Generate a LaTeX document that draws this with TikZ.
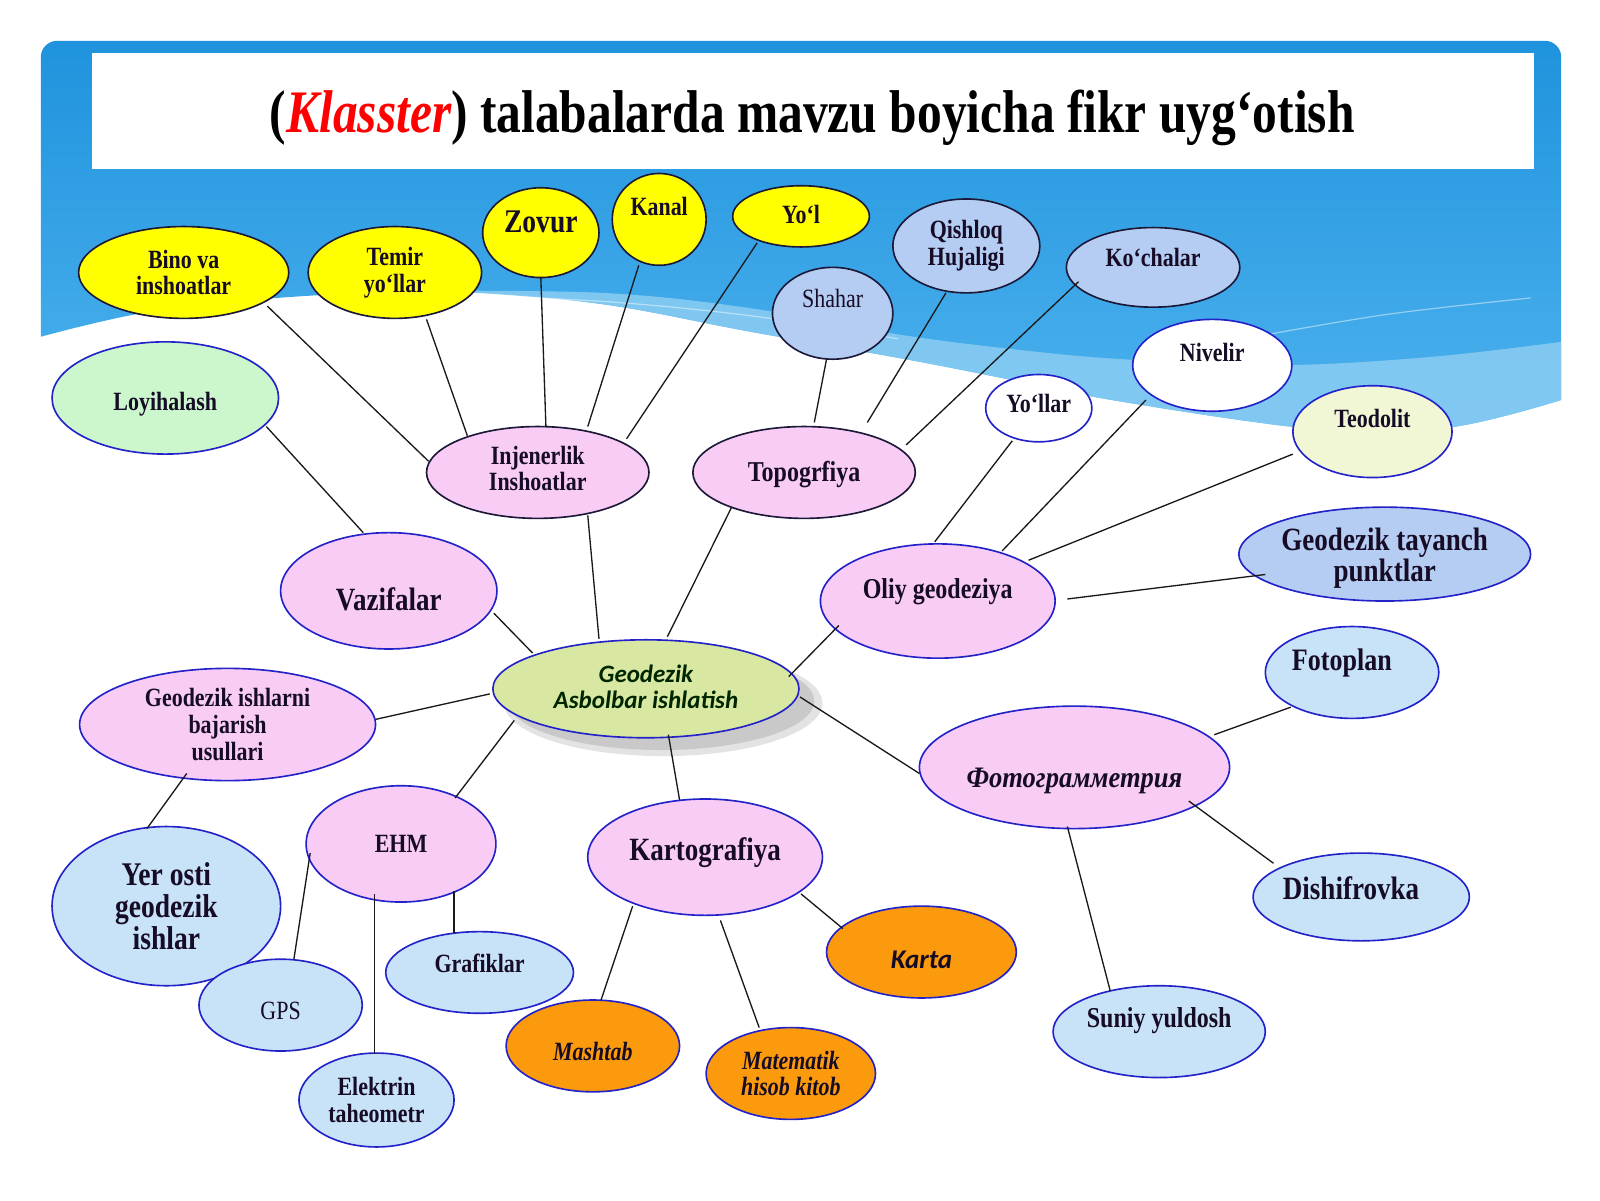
\documentclass[tikz,border=0pt]{standalone}
\usepackage{fontspec}
\setmainfont{Liberation Serif}
\newfontfamily\carl{Carlito}
\usetikzlibrary{calc,shapes.geometric}
\definecolor{skyA}{HTML}{1F93DD}
\definecolor{skyB}{HTML}{4DB2EE}
\definecolor{band}{HTML}{86CBF2}
\definecolor{yel}{HTML}{FFFF00}
\definecolor{pnk}{HTML}{F9CCF6}
\definecolor{lbA}{HTML}{B6CDF3}
\definecolor{lbB}{HTML}{C8E2F8}
\definecolor{grn}{HTML}{CCF6CC}
\definecolor{pyel}{HTML}{F1F6D4}
\definecolor{org}{HTML}{FA9A0C}
\definecolor{cgr}{HTML}{D8E8A2}
\definecolor{bl}{HTML}{2222C8}
\definecolor{dkl}{HTML}{1C1838}
\definecolor{txt}{HTML}{160C26}
\begin{document}
\begin{tikzpicture}[x=1pt,y=-1pt,
  ell/.style={ellipse, draw=bl, line width=1.6pt, inner sep=0pt},
  dk/.style={draw=dkl},
  lb/.style={font=\bfseries\fontsize{21.5}{21.7}\selectfont, align=center, inner sep=0pt, text=txt},
  ys/.style={yscale=1.2},
  con/.style={draw=black!90, line width=1.3pt}]
\useasboundingbox (0,0) rectangle (1568,1176);
\fill[white] (0,0) rectangle (1568,1176);
% sky
\shade[top color=skyA, bottom color=skyB]
  (40,330) [rounded corners=16pt] -- (40,40) -- (1530,40) -- (1530,392) [sharp corners]
  -- plot[smooth, tension=0.6] coordinates {(1530,392) (1420,419) (1300,420) (1225,413) (1078,390) (980,370) (882,351) (735,325) (590,298) (450,286) (300,290) (150,305) (40,330)} -- cycle;
\fill[band, opacity=0.9]
  plot[smooth, tension=0.6] coordinates {(400,285) (590,287) (735,302) (882,328) (1000,343) (1100,352) (1250,358) (1400,350) (1530,335)}
  -- plot[smooth, tension=0.6] coordinates {(1530,392) (1420,419) (1300,420) (1225,413) (1078,390) (980,370) (882,351) (735,325) (590,298) (450,286) (400,286)} -- cycle;
\draw[white, opacity=0.45, line width=1.2pt] plot[smooth, tension=0.6] coordinates {(470,290) (600,296) (740,310) (880,332)};
\draw[white, opacity=0.45, line width=1.2pt] plot[smooth, tension=0.6] coordinates {(1230,330) (1360,308) (1500,292)};
% title box
\fill[white] (90,52) rectangle (1503,166);
\node[font=\bfseries\fontsize{48.5}{50}\selectfont, text=black, inner sep=0pt, yscale=1.22] (title) at (796,116)
  {(\textcolor{red}{\itshape Klasster}) talabalarda mavzu boyicha fikr uyg‘otish};
% nodes
\node[ell, dk, fill=yel, minimum width=206pt, minimum height=90pt, label={[lb,ys]center:Bino va\\inshoatlar}] (bino) at (180,267) {};
\node[ell, dk, fill=yel, minimum width=170pt, minimum height=90pt, label={[lb,ys]center:Temir\\yo‘llar}] (temir) at (387,267) {};
\node[ell, dk, fill=yel, minimum width=114pt, minimum height=88pt, label={[lb, font=\bfseries\fontsize{27}{30}\selectfont, yshift=11pt,ys]center:Zovur}] (zovur) at (530,228) {};
\node[ell, dk, fill=yel, minimum width=92pt, minimum height=90pt, label={[lb, yshift=13pt,ys]center:Kanal}] (kanal) at (646,215) {};
\node[ell, dk, fill=yel, minimum width=134pt, minimum height=60pt, label={[lb, yshift=2pt,ys]center:Yo‘l}] (yol) at (785,212) {};
\node[ell, dk, fill=lbA, minimum width=118pt, minimum height=90pt, label={[lb, font=\fontsize{21.5}{22}\selectfont, yshift=14pt,ys]center:Shahar}] (shahar) at (816,307) {};
\node[ell, dk, fill=lbA, minimum width=144pt, minimum height=92pt, label={[lb,ys]center:Qishloq\\Hujaligi}] (qish) at (947,241) {};
\node[ell, dk, fill=lbA, minimum width=170pt, minimum height=78pt, label={[lb, yshift=10pt,ys]center:Ko‘chalar}] (koch) at (1130,262) {};
\node[ell, fill=white, minimum width=156pt, minimum height=90pt, label={[lb, yshift=13pt,ys]center:Nivelir}] (nivelir) at (1188,358) {};
\node[ell, fill=white, minimum width=104pt, minimum height=66pt, label={[lb, yshift=5pt,ys]center:Yo‘llar}] (yollar) at (1018,400) {};
\node[ell, fill=pyel, minimum width=156pt, minimum height=90pt, label={[lb, yshift=13pt,ys]center:Teodolit}] (teod) at (1345,423) {};
\node[ell, fill=grn, minimum width=222pt, minimum height=110pt, label={[lb, yshift=-6pt,ys]center:Loyihalash}] (loy) at (162,390) {};
\node[ell, dk, fill=pnk, minimum width=218pt, minimum height=90pt, label={[lb, yshift=4pt,ys]center:Injenerlik\\Inshoatlar}] (inj) at (527,463) {};
\node[ell, dk, fill=pnk, minimum width=218pt, minimum height=90pt, label={[lb, font=\bfseries\fontsize{23.5}{24}\selectfont, yshift=-2pt,ys]center:Topogrfiya}] (topo) at (788,463) {};
\node[ell, fill=pnk, minimum width=212pt, minimum height=114pt, label={[lb, font=\bfseries\fontsize{26.5}{27}\selectfont, yshift=-8pt,ys]center:Vazifalar}] (vaz) at (381,579) {};
\node[ell, fill=pnk, minimum width=230pt, minimum height=112pt, label={[lb, font=\bfseries\fontsize{23.5}{24}\selectfont, yshift=9pt,ys]center:Oliy geodeziya}] (oliy) at (919,589) {};
\node[ell, fill=lbA, minimum width=286pt, minimum height=92pt, label={[lb, font=\bfseries\fontsize{26.5}{26}\selectfont, yshift=-4pt,ys]center:Geodezik tayanch\\punktlar}] (tay) at (1357,543) {};
% centre with shadow
\fill[gray!22] (650,689) ellipse [x radius=156, y radius=52];
\fill[gray!42] (648,687) ellipse [x radius=150, y radius=48];
\node[ell, fill=cgr, minimum width=300pt, minimum height=96pt, label={[lb, font=\carl\bfseries\itshape\fontsize{24.5}{26}\selectfont, text=black!85!green, yshift=2pt]center:Geodezik\\Asbolbar ishlatish}] (cen) at (633,675) {};
\node[ell, fill=pnk, minimum width=290pt, minimum height=110pt, label={[lb,ys]center:Geodezik ishlarni\\bajarish\\usullari}] (gi) at (223,710) {};
\node[ell, fill=lbB, minimum width=170pt, minimum height=90pt, label={[lb, font=\bfseries\fontsize{25.5}{26}\selectfont, xshift=-10pt, yshift=9pt,ys]center:Fotoplan}] (fplan) at (1325,659) {};
\node[ell, fill=pnk, minimum width=304pt, minimum height=120pt, label={[lb, font=\bfseries\itshape\fontsize{26}{28}\selectfont, yshift=-13pt, yscale=1.12]center:Фотограмметрия}] (foto) at (1053,752) {};
\node[ell, fill=pnk, minimum width=186pt, minimum height=114pt, label={[lb,ys]center:EHM}] (ehm) at (393,827) {};
\node[ell, fill=pnk, minimum width=230pt, minimum height=114pt, label={[lb, font=\bfseries\fontsize{26.5}{27}\selectfont, yshift=4pt,ys]center:Kartografiya}] (karto) at (691,840) {};
\node[ell, fill=lbB, minimum width=224pt, minimum height=156pt, label={[lb, font=\bfseries\fontsize{27}{26}\selectfont,ys]center:Yer osti\\geodezik\\ishlar}] (yer) at (163,888) {};
\node[ell, fill=lbB, minimum width=212pt, minimum height=86pt, label={[lb, font=\bfseries\fontsize{26.5}{27}\selectfont, xshift=-10pt, yshift=9pt,ys]center:Dishifrovka}] (dish) at (1334,879) {};
\node[ell, fill=lbB, minimum width=184pt, minimum height=80pt, label={[lb, yshift=9pt,ys]center:Grafiklar}] (graf) at (470,953) {};
\node[ell, fill=org, minimum width=186pt, minimum height=90pt, label={[lb, font=\carl\bfseries\itshape\fontsize{26.5}{28}\selectfont, yshift=-8pt]center:Karta}] (karta) at (903,933) {};
\node[ell, fill=lbB, minimum width=160pt, minimum height=90pt, label={[lb, font=\fontsize{21.5}{22}\selectfont, yshift=-6pt,ys]center:GPS}] (gps) at (275,985) {};
\node[ell, fill=org, minimum width=170pt, minimum height=90pt, label={[lb, font=\bfseries\itshape\fontsize{21.5}{22}\selectfont, yshift=-5pt,ys]center:Mashtab}] (mash) at (581,1025) {};
\node[ell, fill=org, minimum width=166pt, minimum height=90pt, label={[lb, font=\bfseries\itshape\fontsize{21.5}{21.7}\selectfont,ys]center:Matematik\\hisob kitob}] (mat) at (775,1052) {};
\node[ell, fill=lbB, minimum width=208pt, minimum height=90pt, label={[lb, font=\bfseries\fontsize{23.5}{24}\selectfont, yshift=11pt,ys]center:Suniy yuldosh}] (suniy) at (1136,1011) {};
\node[ell, fill=lbB, minimum width=152pt, minimum height=92pt, label={[lb,ys]center:Elektrin\\taheometr}] (elek) at (369,1078) {};
% connectors
\draw[con] ($(bino)+(82,33)$) -- ($(inj)+(-107,-11)$);
\draw[con] ($(temir)+(31,46)$) -- ($(inj)+(-69,-36)$);
\draw[con] ($(zovur)+(0,44)$) -- ($(inj)+(8,-45)$);
\draw[con] ($(kanal)+(-20,45)$) -- ($(inj)+(49,-45)$);
\draw[con] ($(yol)+(-43,26)$) -- ($(inj)+(87,-33)$);
\draw[con] ($(shahar)+(-6,45)$) -- ($(topo)+(10,-49)$);
\draw[con] ($(qish)+(-20,46)$) -- ($(topo)+(62,-49)$);
\draw[con] ($(koch)+(-73,14)$) -- ($(topo)+(100,-27)$);
\draw[con] ($(yollar)+(-26,32)$) -- ($(oliy)+(-3,-58)$);
\draw[con] ($(nivelir)+(-65,34)$) -- ($(oliy)+(63,-49)$);
\draw[con] ($(teod)+(-78,22)$) -- ($(oliy)+(89,-40)$);
\draw[con] ($(tay)+(-117,20)$) -- ($(oliy)+(127,-2)$);
\draw[con] ($(loy)+(99,28)$) -- ($(vaz)+(-25,-57)$);
\draw[con] ($(vaz)+(103,22)$) -- ($(cen)+(-111,-35)$);
\draw[con] ($(inj)+(49,42)$) -- ($(cen)+(-46,-49)$);
\draw[con] ($(topo)+(-71,34)$) -- ($(cen)+(21,-51)$);
\draw[con] ($(oliy)+(-97,24)$) -- ($(cen)+(140,-12)$);
\draw[con] ($(cen)+(151,8)$) -- ($(foto)+(-152,6)$);
\draw[con] ($(cen)+(-153,5)$) -- ($(gi)+(145,-5)$);
\draw[con] ($(cen)+(-129,31)$) -- ($(ehm)+(53,-45)$);
\draw[con] ($(cen)+(22,45)$) -- ($(karto)+(-25,-56)$);
\draw[con] ($(gi)+(-40,48)$) -- ($(yer)+(-19,-76)$);
\draw[con] ($(ehm)+(-89,9)$) -- ($(gps)+(13,-45)$);
\draw[con] ($(ehm)+(-26,49)$) -- ($(elek)+(-2,-45)$);
\draw[con] ($(ehm)+(52,46)$) -- ($(graf)+(-25,-39)$);
\draw[con] ($(karto)+(-71,48)$) -- ($(mash)+(8,-45)$);
\draw[con] ($(karto)+(15,62)$) -- ($(mat)+(-31,-45)$);
\draw[con] ($(karto)+(94,36)$) -- ($(karta)+(-77,-23)$);
\draw[con] ($(foto)+(137,-32)$) -- ($(fplan)+(-60,34)$);
\draw[con] ($(foto)+(112,33)$) -- ($(dish)+(-86,-33)$);
\draw[con] ($(foto)+(-7,58)$) -- ($(suniy)+(-48,-40)$);
\end{tikzpicture}
\end{document}
